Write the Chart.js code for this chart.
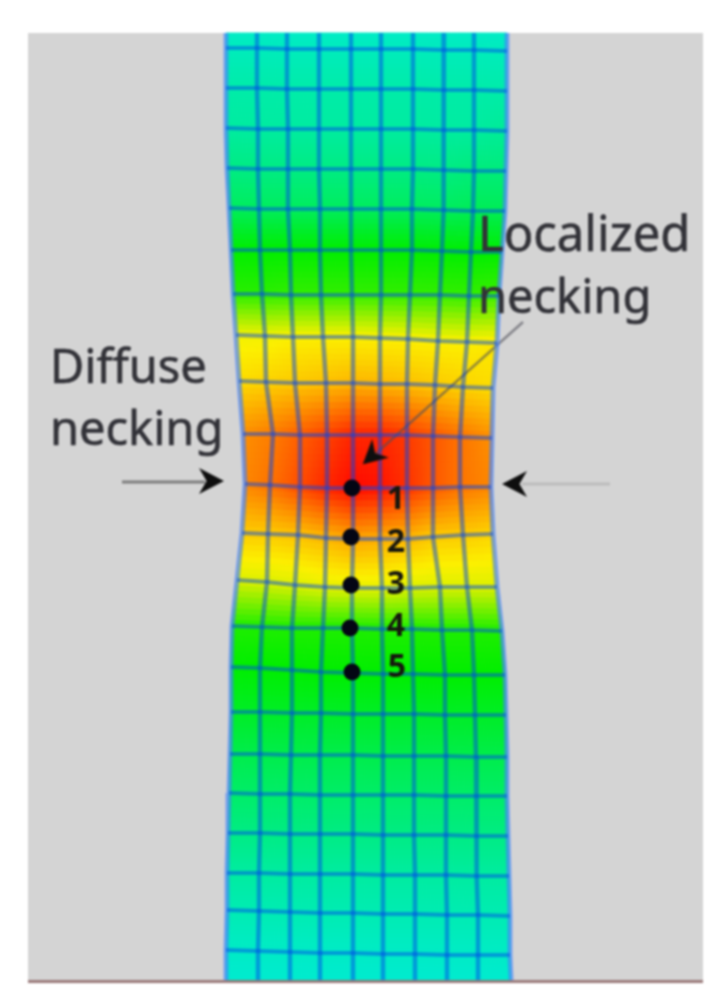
<!DOCTYPE html>
<html>
<head>
<meta charset="utf-8">
<title>Necking contour</title>
<style>
  html, body { margin: 0; padding: 0; background: #fff; }
  canvas { display: block; filter: blur(1.3px); }
</style>
<script src="https://cdn.jsdelivr.net/npm/chart.js@4"></script>
</head>
<body>
<canvas id="chart" width="725" height="1008"></canvas>
<script>
// mesh node positions, one row per horizontal mesh line
const meshX = [
  [226, 257, 287, 319, 351, 381, 413, 444, 474, 507],
  [226, 257, 287, 319, 351, 381, 413, 444, 474, 507],
  [226, 257, 287, 319, 351, 381, 413, 444, 474, 507],
  [226, 258, 288, 319, 351, 381, 413, 444, 474, 507],
  [227, 258, 288, 319, 351, 381, 413, 443, 474, 506],
  [229, 259, 288, 320, 351, 381, 412, 443, 473, 505],
  [231, 260, 290, 320, 351, 381, 412, 442, 471, 502],
  [233, 262, 291, 321, 352, 381, 410, 440, 469, 499],
  [236, 265, 293, 323, 353, 380, 408, 438, 467, 497],
  [239, 266, 295, 326, 353, 380, 407, 435, 463, 493],
  [243, 273, 300, 327, 353, 380, 407, 433, 460, 492],
  [245, 270, 300, 327, 353, 380, 407, 433, 460, 491],
  [242, 268, 298, 326, 353, 380, 408, 433, 463, 493],
  [237, 267, 295, 325, 352, 382, 410, 440, 467, 497],
  [232, 262, 292, 323, 352, 382, 412, 442, 472, 502],
  [231, 260, 292, 321, 353, 383, 413, 445, 474, 505],
  [231, 260, 292, 321, 353, 383, 414, 445, 475, 506],
  [230, 260, 291, 320, 353, 383, 414, 446, 476, 507],
  [229, 260, 290, 320, 353, 383, 414, 446, 476, 507],
  [228, 260, 290, 320, 353, 383, 414, 446, 477, 508],
  [227, 259, 290, 320, 353, 383, 415, 446, 477, 509],
  [227, 259, 290, 320, 353, 383, 415, 447, 478, 510],
  [226, 258, 290, 320, 353, 383, 415, 447, 478, 510],
  [226, 258, 290, 320, 353, 383, 415, 447, 478, 511]
]
const meshY = [
  [33, 33, 33, 33, 33, 33, 33, 33, 33, 33],
  [48, 48, 49, 49, 49, 49, 49, 50, 50, 51],
  [88, 88, 89, 89, 89, 89, 89, 90, 90, 91],
  [128, 129, 129, 129, 129, 129, 129, 130, 130, 131],
  [168, 169, 169, 169, 169, 169, 169, 170, 171, 171],
  [208, 209, 209, 209, 209, 209, 209, 210, 211, 211],
  [250, 250, 250, 250, 250, 250, 250, 251, 252, 252],
  [294, 294, 295, 295, 295, 295, 295, 295, 296, 296],
  [335, 336, 337, 337, 337, 338, 339, 341, 342, 343],
  [381, 382, 383, 383, 383, 384, 384, 385, 387, 388],
  [434, 434, 435, 435, 435, 435, 435, 436, 437, 438],
  [484, 485, 487, 488, 488, 488, 488, 488, 487, 487],
  [533, 534, 535, 538, 539, 539, 539, 537, 535, 534],
  [580, 582, 585, 587, 588, 588, 588, 587, 587, 587],
  [626, 627, 628, 628, 628, 629, 629, 630, 630, 631],
  [667, 668, 670, 672, 673, 674, 674, 675, 675, 675],
  [712, 712, 713, 713, 714, 714, 714, 715, 715, 715],
  [754, 754, 755, 755, 755, 756, 756, 756, 757, 757],
  [793, 794, 794, 795, 795, 795, 795, 796, 796, 796],
  [833, 833, 834, 834, 834, 835, 835, 835, 836, 836],
  [873, 873, 874, 874, 874, 875, 875, 875, 876, 876],
  [910, 911, 912, 913, 913, 914, 914, 915, 915, 916],
  [950, 951, 952, 953, 953, 954, 954, 955, 955, 955],
  [980, 980, 980, 980, 980, 980, 980, 980, 980, 980]
]
// contour value at each node (0 = blue, 1 = red)
const strain = [
  [.29, .29, .29, .29, .29, .29, .29, .29, .29, .29],
  [.30, .30, .30, .30, .30, .30, .30, .30, .30, .30],
  [.32, .32, .32, .32, .32, .32, .32, .32, .32, .32],
  [.33, .33, .33, .33, .33, .33, .33, .33, .33, .34],
  [.36, .36, .36, .36, .36, .36, .36, .36, .37, .37],
  [.40, .40, .40, .40, .40, .40, .40, .40, .41, .41],
  [.50, .50, .50, .50, .50, .50, .50, .50, .50, .50],
  [.54, .54, .55, .55, .55, .55, .55, .55, .55, .56],
  [.74, .74, .75, .75, .75, .75, .75, .75, .75, .76],
  [.77, .78, .79, .80, .81, .81, .80, .79, .78, .77],
  [.85, .87, .90, .93, .96, .96, .94, .91, .88, .85],
  [.86, .88, .92, .96, .99, .98, .95, .91, .88, .86],
  [.79, .79, .80, .81, .83, .82, .81, .79, .79, .78],
  [.72, .72, .72, .73, .73, .73, .72, .72, .72, .72],
  [.53, .53, .53, .53, .53, .53, .53, .53, .53, .53],
  [.50, .50, .50, .50, .50, .50, .50, .50, .50, .50],
  [.46, .46, .46, .46, .46, .46, .46, .46, .46, .46],
  [.42, .42, .42, .42, .42, .42, .42, .42, .42, .42],
  [.39, .39, .39, .39, .39, .39, .39, .39, .39, .39],
  [.36, .36, .36, .36, .36, .36, .36, .36, .36, .36],
  [.33, .33, .33, .33, .33, .33, .33, .33, .33, .33],
  [.31, .31, .31, .31, .31, .31, .31, .31, .31, .31],
  [.29, .29, .29, .29, .29, .29, .29, .29, .29, .29],
  [.28, .28, .28, .28, .28, .28, .28, .28, .28, .28]
]

const markerX = [352, 351, 351, 350, 352]
const markerY = [488, 537, 585, 628, 672]
const markerLabels = ['1', '2', '3', '4', '5']
const markerLabelX = [396, 396, 396, 396, 397]
const markerLabelY = [500, 543, 585, 627, 668]

const noteLabels = ['Diffuse', 'necking', 'Localized', 'necking']
const noteX = [50, 50, 478, 478]
const noteY = [383, 445, 251, 313]
const noteSize = [47, 47, 49, 47]

const colorStops = [0, .25, .5, .75, 1]
const colorR = [0, 0, 0, 252, 255]
const colorG = [0, 235, 238, 240, 0]
const colorB = [255, 235, 0, 0, 0]

function contourColor (v) {
  let i = 0
  while (i < colorStops.length - 2 && v > colorStops[i + 1]) i++
  const t = (v - colorStops[i]) / (colorStops[i + 1] - colorStops[i])
  const mix = (a) => Math.round(a[i] + (a[i + 1] - a[i]) * t)
  return `rgb(${mix(colorR)},${mix(colorG)},${mix(colorB)})`
}

// stealth arrow head pointing right, used as a point style
function makeHead (w, h) {
  const c = document.createElement('canvas')
  c.width = w
  c.height = h
  const g = c.getContext('2d')
  g.fillStyle = '#0e0e0e'
  g.beginPath()
  g.moveTo(w, h / 2)
  g.lineTo(1, 0)
  g.lineTo(w * 0.33, h / 2)
  g.lineTo(1, h)
  g.closePath()
  g.fill()
  return c
}

const lineSets = []
function addLine (data, color, width) {
  lineSets.push({ data, borderColor: color, borderWidth: width, showLine: true, pointRadius: 0 })
}

// horizontal mesh lines (the two outer rows have no drawn line)
for (let r = 1; r < meshX.length - 1; r++) {
  addLine(meshX[r].map((x, c) => ({ x, y: meshY[r][c] })), 'rgba(0,70,235,0.48)', 4)
}
// vertical mesh lines, edges lighter and wider
for (let c = 0; c < 10; c++) {
  const edge = c === 0 || c === 9
  addLine(meshX.map((row, r) => ({ x: row[c], y: meshY[r][c] })),
    edge ? 'rgba(70,130,250,0.65)' : 'rgba(0,70,235,0.48)', edge ? 5 : 4.5)
}
// bottom border of the frame
addLine([{ x: 28, y: 981.5 }, { x: 703, y: 981.5 }], 'rgba(140,100,100,0.8)', 3)
// arrow shafts
addLine([{ x: 122, y: 482 }, { x: 205, y: 482 }], 'rgb(125,125,125)', 3)
addLine([{ x: 522, y: 484 }, { x: 610, y: 484 }], 'rgb(188,188,188)', 3)
addLine([{ x: 523, y: 322 }, { x: 372, y: 457 }], 'rgba(80,80,90,0.6)', 2.5)

const markerSet = {
  data: markerX.map((x, i) => ({ x, y: markerY[i] })),
  pointRadius: 8.5,
  pointBackgroundColor: 'rgb(4,6,20)',
  pointBorderWidth: 0,
  showLine: false
}
const headSet = {
  data: [{ x: 211, y: 481 }, { x: 515, y: 484 }],
  pointStyle: makeHead(26, 26),
  pointRotation: [0, 180],
  showLine: false
}
const diagHeadSet = {
  data: [{ x: 372, y: 456 }],
  pointStyle: makeHead(25, 25),
  pointRotation: 138,
  showLine: false
}

const contourPlugin = {
  id: 'contour',
  beforeDatasetsDraw (chart) {
    const { ctx, scales } = chart
    const px = (x) => scales.x.getPixelForValue(x)
    const py = (y) => scales.y.getPixelForValue(y)

    // grey plate behind the mesh
    ctx.save()
    ctx.fillStyle = 'rgb(212,212,212)'
    ctx.fillRect(px(28), py(33), px(703) - px(28), py(983) - py(33))

    // each element is split up so the nodal values blend across it
    const steps = 8
    const lerp = (a, b, t) => a + (b - a) * t
    ctx.lineWidth = 1
    for (let r = 0; r < meshX.length - 1; r++) {
      for (let c = 0; c < 9; c++) {
        const at = (m, u, v) => lerp(lerp(m[r][c], m[r][c + 1], u), lerp(m[r + 1][c], m[r + 1][c + 1], u), v)
        for (let i = 0; i < steps; i++) {
          for (let j = 0; j < steps; j++) {
            const u0 = i / steps
            const u1 = (i + 1) / steps
            const v0 = j / steps
            const v1 = (j + 1) / steps
            const col = contourColor(at(strain, (u0 + u1) / 2, (v0 + v1) / 2))
            ctx.fillStyle = col
            ctx.strokeStyle = col
            ctx.beginPath()
            ctx.moveTo(px(at(meshX, u0, v0)), py(at(meshY, u0, v0)))
            ctx.lineTo(px(at(meshX, u1, v0)), py(at(meshY, u1, v0)))
            ctx.lineTo(px(at(meshX, u1, v1)), py(at(meshY, u1, v1)))
            ctx.lineTo(px(at(meshX, u0, v1)), py(at(meshY, u0, v1)))
            ctx.closePath()
            ctx.fill()
            ctx.stroke()
          }
        }
      }
    }
    ctx.restore()
  },
  afterDatasetsDraw (chart) {
    const { ctx, scales } = chart
    ctx.save()
    ctx.textAlign = 'left'
    ctx.textBaseline = 'alphabetic'
    ctx.fillStyle = 'rgb(50,50,56)'
    ctx.strokeStyle = 'rgb(50,50,56)'
    ctx.lineWidth = 0.6
    noteLabels.forEach((t, i) => {
      const x = scales.x.getPixelForValue(noteX[i])
      const y = scales.y.getPixelForValue(noteY[i])
      ctx.font = `${noteSize[i]}px "Noto Sans"`
      ctx.fillText(t, x, y)
      ctx.strokeText(t, x, y)
    })
    ctx.font = 'bold 32px "Noto Sans"'
    ctx.textAlign = 'center'
    ctx.textBaseline = 'middle'
    ctx.fillStyle = 'rgb(22,22,14)'
    markerLabels.forEach((t, i) => {
      ctx.fillText(t, scales.x.getPixelForValue(markerLabelX[i]), scales.y.getPixelForValue(markerLabelY[i]))
    })
    ctx.restore()
  }
}

new Chart(document.getElementById('chart'), {
  type: 'scatter',
  // the first dataset in the list ends up on top
  data: { datasets: [markerSet, diagHeadSet, headSet, ...lineSets] },
  options: {
    responsive: false,
    animation: false,
    devicePixelRatio: 1,
    layout: { padding: 0, autoPadding: false },
    plugins: { legend: { display: false }, tooltip: { enabled: false }, title: { display: false } },
    scales: {
      x: { type: 'linear', min: 0, max: 725, display: false },
      y: { type: 'linear', min: 0, max: 1008, reverse: true, display: false }
    }
  },
  plugins: [contourPlugin]
})
</script>
</body>
</html>
